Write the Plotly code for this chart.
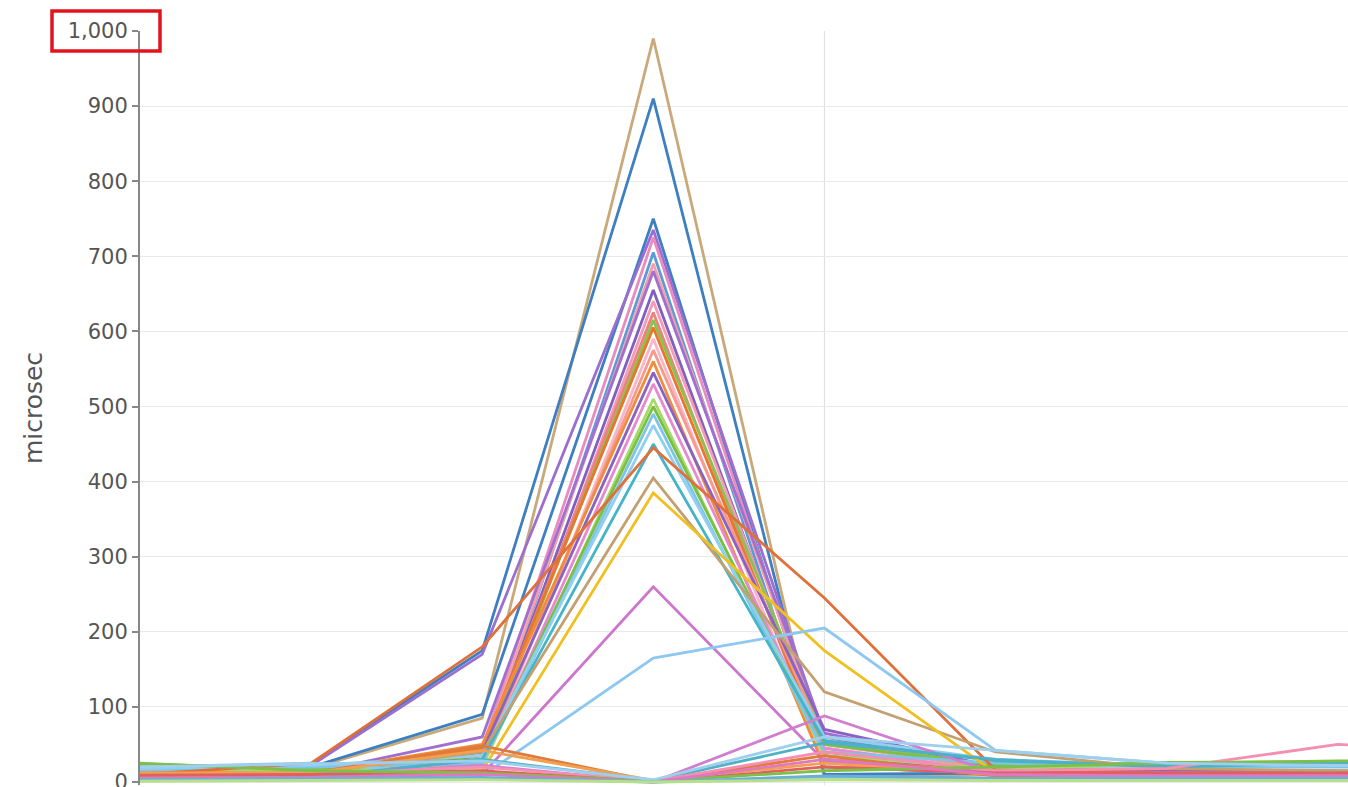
import plotly.graph_objects as go

# x categories (sample positions)
x_vals = [0, 1, 2, 3, 4, 5, 6, 7, 8]

y_ticks = [0, 100, 200, 300, 400, 500, 600, 700, 800, 900, 1000]
y_title = "microsec"

# series values (microsec), one list per series
s01 = [22, 18, 85, 990, 5, 10, 8, 8, 8]
s02 = [12, 24, 175, 910, 10, 12, 10, 10, 10]
s03 = [15, 20, 90, 750, 30, 15, 12, 12, 12]
s04 = [10, 22, 170, 735, 60, 18, 12, 12, 12]
s05 = [8, 12, 45, 725, 40, 15, 12, 10, 10]
s06 = [14, 16, 30, 705, 20, 12, 10, 10, 10]
s07 = [9, 10, 40, 690, 50, 18, 14, 12, 12]
s08 = [10, 12, 60, 680, 65, 20, 15, 14, 14]
s09 = [7, 9, 35, 655, 35, 14, 12, 12, 12]
s10 = [6, 8, 25, 640, 45, 15, 12, 12, 12]
s11 = [12, 12, 40, 625, 30, 14, 12, 12, 12]
s12 = [20, 16, 35, 615, 55, 22, 24, 25, 25]
s13 = [10, 11, 45, 605, 40, 14, 10, 10, 10]
s14 = [5, 7, 20, 590, 25, 12, 10, 10, 10]
s15 = [11, 12, 30, 575, 55, 16, 12, 12, 12]
s16 = [13, 13, 50, 560, 20, 12, 10, 10, 10]
s17 = [8, 10, 40, 545, 70, 20, 15, 14, 14]
s18 = [6, 8, 25, 530, 45, 14, 12, 12, 12]
s19 = [18, 15, 20, 510, 35, 18, 22, 22, 22]
s20 = [24, 18, 30, 500, 50, 22, 26, 28, 28]
s21 = [16, 20, 25, 490, 40, 25, 20, 20, 20]
s22 = [18, 22, 35, 475, 60, 30, 22, 22, 22]
s23 = [4, 6, 30, 450, 55, 28, 22, 25, 25]
s24 = [10, 25, 180, 445, 245, 16, 12, 12, 12]
s25 = [9, 12, 40, 405, 120, 40, 18, 15, 15]
s26 = [7, 9, 15, 385, 175, 12, 10, 10, 10]
s27 = [5, 8, 10, 260, 28, 12, 10, 10, 10]
s28 = [20, 25, 8, 165, 205, 42, 25, 22, 22]
s29 = [10, 12, 48, 1, 35, 8, 6, 6, 6]
s30 = [12, 12, 42, 2, 25, 10, 8, 8, 8]
s31 = [6, 8, 22, 0, 88, 12, 10, 10, 10]
s32 = [5, 6, 30, 2, 52, 30, 20, 25, 25]
s33 = [8, 10, 20, 1, 40, 15, 18, 50, 40]
s34 = [9, 10, 15, 0, 20, 12, 12, 12, 12]
s35 = [25, 15, 12, 1, 15, 20, 25, 28, 28]
s36 = [20, 24, 28, 3, 60, 42, 25, 22, 22]
s37 = [4, 6, 10, 0, 30, 10, 8, 8, 8]
s38 = [2, 3, 5, 0, 5, 3, 3, 3, 3]
s39 = [3, 4, 6, 0, 8, 5, 5, 5, 5]
s40 = [1, 2, 3, 0, 3, 2, 2, 2, 2]

series = [s01, s02, s03, s04, s05, s06, s07, s08, s09, s10,
          s11, s12, s13, s14, s15, s16, s17, s18, s19, s20,
          s21, s22, s23, s24, s25, s26, s27, s28, s29, s30,
          s31, s32, s33, s34, s35, s36, s37, s38, s39, s40]

colors = ["#c9a97a", "#3d7fc1", "#3d7fc1", "#9b6fd0", "#e88cc0",
          "#5b9bd5", "#f4a0a8", "#a070d0", "#7f5fbf", "#f39bb7",
          "#f08080", "#8cc152", "#e8772e", "#f7b6c9", "#f59a8c",
          "#f08c3c", "#8a62c4", "#e58ad0", "#a6d96a", "#7ac143",
          "#7fc4e8", "#8fd0f0", "#46b4c8", "#e0703a", "#c2a070",
          "#f0c020", "#cc77cc", "#8dc8f0", "#e07b39", "#f0a050",
          "#d07fd0", "#4fb0c6", "#f48fb1", "#e06060", "#7cc04a",
          "#9ed0ee", "#e078c0", "#8fd8d8", "#6baed6", "#b8e08a"]

fig = go.Figure()
for i, (vals, col) in enumerate(zip(series, colors)):
    fig.add_trace(go.Scatter(x=x_vals, y=vals, mode="lines",
                             line=dict(color=col, width=2.8),
                             name=f"s{i+1}", showlegend=False))

fig.add_vline(x=4, line=dict(color="#dddddd", width=1), layer="below")

PW, PH = 1208, 754
fig.add_shape(type="rect", xref="paper", yref="paper",
              x0=-88/PW, x1=20/PW, y0=1 + (31-51)/PH, y1=1 + (31-11)/PH,
              line=dict(color="#e3131b", width=3.5))

fig.update_layout(
    width=1348, height=787,
    margin=dict(l=140, r=0, t=31, b=2, autoexpand=False),
    paper_bgcolor="white", plot_bgcolor="white",
    font=dict(family="DejaVu Sans, Arial, sans-serif", color="#555555"),
    xaxis=dict(range=[0, 7.06], showgrid=False, showticklabels=False,
               zeroline=False, showline=False, ticks="", automargin=False),
    yaxis=dict(range=[-4, 1000], tickvals=y_ticks, tickformat=",",
               automargin=False,
               showgrid=True, gridcolor="#e9e9e9", gridwidth=1,
               zeroline=False, showline=True, linecolor="#888888", linewidth=2,
               ticks="outside", ticklen=6, tickcolor="#888888", tickwidth=1.5,
               ticklabeloverflow="allow",
               tickfont=dict(size=21, color="#555555"),
               title=dict(text=y_title, font=dict(size=25, color="#555555"),
                          standoff=18)),
)

fig.write_html("out.html", config={"displayModeBar": False},
               post_script="document.body.style.margin='0';document.body.style.overflow='hidden';")
